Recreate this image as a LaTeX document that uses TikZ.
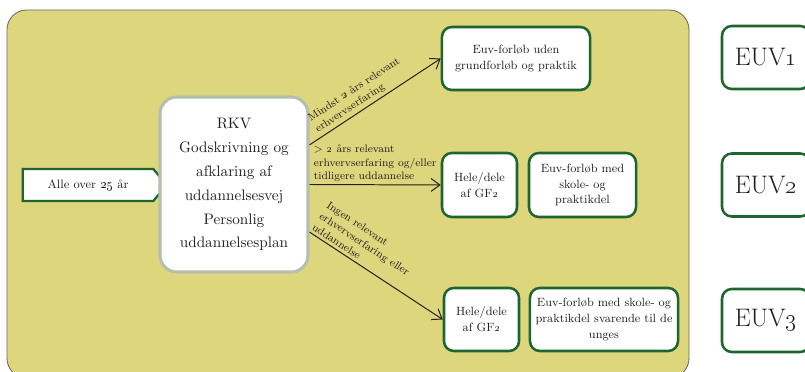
\documentclass[tikz,border=0pt]{standalone}
\usepackage{tikz}
\usepackage{xcolor}
\usetikzlibrary{arrows.meta,shapes.symbols}

\definecolor{panel}{HTML}{DED67C}
\definecolor{panelrim}{HTML}{6A6A62}
\definecolor{boxgreen}{HTML}{1E6630}
\definecolor{rkvrim}{HTML}{B3C0AE}
\definecolor{ink}{HTML}{231F20}

\begin{document}
\begin{tikzpicture}[x=0.025cm, y=-0.025cm,
        greenbox/.style={draw=boxgreen, line width=1.8pt, fill=white, rounded corners=7pt, align=center, inner sep=0pt, text=ink, font=\fontsize{8.5}{11.3}\selectfont},
        euvbox/.style={greenbox, minimum width=2.2cm, minimum height=1.575cm, font=\fontsize{18}{20}\selectfont},
        rkvbox/.style={draw=rkvrim, line width=2.2pt, fill=white, rounded corners=12pt, minimum width=3.7cm, minimum height=4.375cm, align=center, inner sep=0pt, text=ink, font=\fontsize{10.8}{17}\selectfont},
        entry/.style={signal, signal to=east, signal pointer angle=100, draw=boxgreen, line width=1.6pt, fill=white, minimum width=3.6cm, minimum height=0.8cm, inner sep=0pt, text=ink, font=\fontsize{8.6}{11}\selectfont},
        flow/.style={draw=ink, line width=0.7pt, -{Straight Barb[length=2.2mm,width=3.2mm]}},
        pathlabel/.style={font=\fontsize{7.7}{9.4}\selectfont, align=left, inner sep=2pt, text=ink}]
        \clip (0,0) rectangle (805,372);
        \draw[draw=panelrim, fill=panel, line width=0.6pt, rounded corners=14pt] (7,10) rectangle (689,378);

        \node[entry] (alle) at (88,185) {Alle over \oldstylenums{25} år};
        \node[rkvbox] (rkv) at (234,184.5) {RKV\\Godskrivning og\\afklaring af\\uddannelsesvej\\Personlig\\uddannelsesplan};

        \node[greenbox, minimum width=3.7cm, minimum height=1.575cm] (euvA) at (516,58.5) {Euv-forløb uden\\grundforløb og praktik};
        \node[greenbox, minimum width=1.875cm, minimum height=1.6cm] (gfB) at (479.5,185) {Hele/dele\\af GF\oldstylenums{2}};
        \node[greenbox, minimum width=2.675cm, minimum height=1.6cm] (euvB) at (582.5,185) {Euv-forløb med\\skole- og\\praktikdel};
        \node[greenbox, minimum width=1.875cm, minimum height=1.575cm] (gfC) at (481.5,319.5) {Hele/dele\\af GF\oldstylenums{2}};
        \node[greenbox, minimum width=3.7cm, minimum height=1.575cm] (euvC) at (604,319.5) {Euv-forløb med skole- og\\praktikdel svarende til de\\unges};

        \node[euvbox] (euv1) at (766,57.5) {EUV\oldstylenums{1}};
        \node[euvbox] (euv2) at (766,185) {EUV\oldstylenums{2}};
        \node[euvbox] (euv3) at (766,320.5) {EUV\oldstylenums{3}};

        % veje fra RKV
        \draw[flow] ([yshift=0.99cm]rkv.east) -- node[pathlabel, sloped, above, pos=0.43] {Mindst \oldstylenums{2} års relevant\\erhvervserfaring} (euvA.west);
        \draw[flow] (rkv.east) -- node[pathlabel, above, midway] {> \oldstylenums{2} års relevant\\erhvervserfaring og/eller\\tidligere uddannelse} (gfB.west);
        \draw[flow] ([yshift=-1.19cm]rkv.east) -- node[pathlabel, sloped, above, pos=0.33] {Ingen relevant\\erhvervserfaring eller\\uddannelse} (gfC.west);
\end{tikzpicture}
\end{document}
